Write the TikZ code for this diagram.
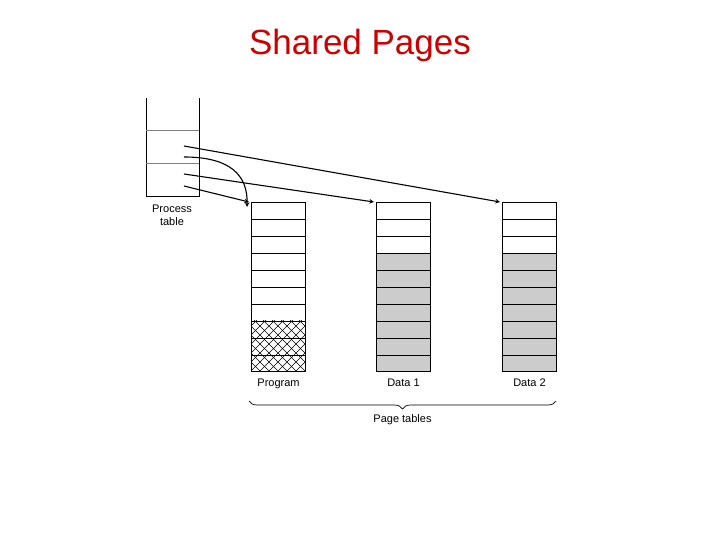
\documentclass[tikz,border=0pt]{standalone}
\usepackage{fontspec}
\setmainfont{Liberation Sans}
\usetikzlibrary{decorations.pathreplacing,positioning,calc}
\definecolor{titlered}{RGB}{204,0,0}
\tikzset{
  col/.style={draw,line width=1pt,minimum width=54pt,minimum height=169pt,inner sep=0pt,anchor=north west},
  lbl/.style={font=\fontsize{11}{13}\selectfont,text depth=2pt},
  ptr/.style={->,>=stealth,line width=1.1pt}
}
\begin{document}
\begin{tikzpicture}[x=1pt,y=-1pt]
\useasboundingbox (0,0) rectangle (720,540);

\node [text=titlered,font=\fontsize{35}{38}\selectfont] (title) at (360,45) {Shared Pages};

% process table
\draw [line width=1pt] (146,98) -- (146,197) -- (199,197) -- (199,98);
\draw [gray,line width=1pt] (146,131) -- (199,131) (146,164) -- (199,164);
\node [lbl,align=center] (ptlabel) at (172,216) {Process\\table};
\coordinate (p1) at (184,146);
\coordinate (p2) at (184,157);
\coordinate (p3) at (184,174);
\coordinate (p4) at (184,186);

% page tables
\begin{scope}
  \clip (251,320) rectangle (305,371);
  \foreach \d in {-60,-51,...,60}
    \draw [line width=0.5pt] (251+\d,320) -- ++(60,60) (305-\d,320) -- ++(-60,60);
\end{scope}
\fill [gray!40] (376,253) rectangle (430,371);
\fill [gray!40] (502,253) rectangle (556,371);
\node [col] (prog) at (251,202) {};
\node [col] (data1) at (376,202) {};
\node [col] (data2) at (502,202) {};
\foreach \c in {prog,data1,data2}
  \foreach \i in {1,...,9}
    \draw [line width=0.7pt] ($(\c.north west)!\i/10!(\c.south west)$) -- ($(\c.north east)!\i/10!(\c.south east)$);

\node [lbl,below=3pt of prog] (lprog) {Program};
\node [lbl,below=3pt of data1] (ldata1) {Data 1};
\node [lbl,below=3pt of data2] (ldata2) {Data 2};

\draw [decorate,decoration={brace,mirror,amplitude=8pt},line width=0.7pt] (249,401) -- (556,401)
  node [lbl,midway,below=10pt] (ptabs) {Page tables};

% pointers
\draw [ptr] (p1) -- ([xshift=-2pt]data2.north west);
\draw [ptr] (p2) .. controls (230,157) and (248,175) .. ([xshift=-4pt,yshift=-5pt]prog.north west);
\draw [ptr] (p3) -- ([xshift=-2pt]data1.north west);
\draw [ptr] (p4) -- ([xshift=-2pt]prog.north west);

\end{tikzpicture}
\end{document}
